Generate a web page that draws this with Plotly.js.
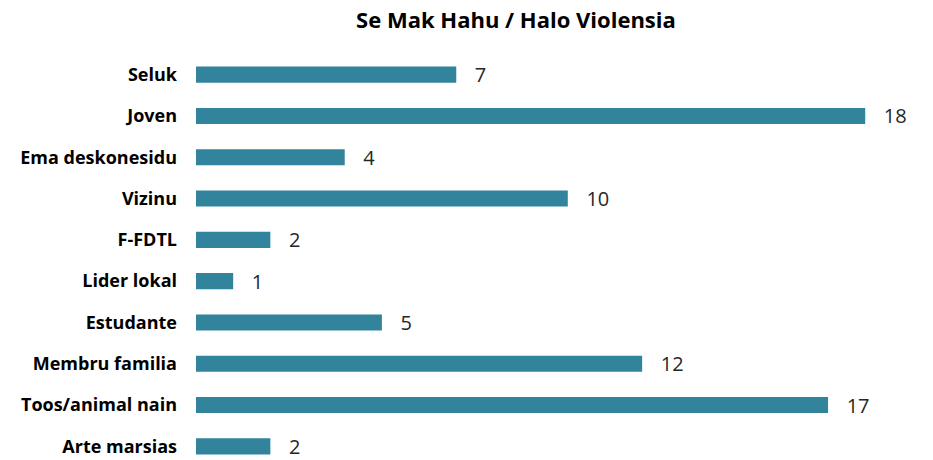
<!DOCTYPE html>
<html>
<head>
<meta charset="utf-8">
<script src="https://cdn.plot.ly/plotly-3.0.1.min.js"></script>
<style>html,body{margin:0;padding:0;background:#fff;}#chart{width:933px;height:460px;}</style>
</head>
<body>
<div id="chart"></div>
<script>
const categories = ["Seluk", "Joven", "Ema deskonesidu", "Vizinu", "F-FDTL", "Lider lokal", "Estudante", "Membru familia", "Toos/animal nain", "Arte marsias"];
const values = [7, 18, 4, 10, 2, 1, 5, 12, 17, 2];
const titleText = "Se Mak Hahu / Halo Violensia";

const trace = {
  type: "bar",
  orientation: "h",
  y: categories,
  x: values,
  marker: {color: "#31849B"},
  width: 0.39,
  text: values.map(v => "\u00a0\u00a0\u00a0" + v),
  textposition: "outside",
  constraintext: "none",
  cliponaxis: false,
  textfont: {family: "Open Sans, sans-serif", size: 20, color: "#262626"},
  hoverinfo: "none"
};

const layout = {
  width: 933, height: 460,
  margin: {l: 196, r: 12, t: 54, b: 0, pad: 0},
  paper_bgcolor: "#fff", plot_bgcolor: "#fff",
  showlegend: false,
  title: {text: "<b>" + titleText + "</b>", x: 0.553, xanchor: "center", y: 0.972, yanchor: "top",
          font: {family: "Open Sans, sans-serif", size: 22, color: "#000"}},
  xaxis: {range: [0, 19.5], visible: false, showgrid: false, zeroline: false, fixedrange: true},
  yaxis: {type: "category", range: [9.33, -0.5], autorange: false, showgrid: false, zeroline: false,
          showline: false, ticks: "", ticklabelstandoff: 18,
          tickfont: {family: "Open Sans, sans-serif", size: 18, color: "#000", weight: "bold"}}
};

Plotly.newPlot("chart", [trace], layout, {displayModeBar: false, staticPlot: true});
</script>
</body>
</html>
